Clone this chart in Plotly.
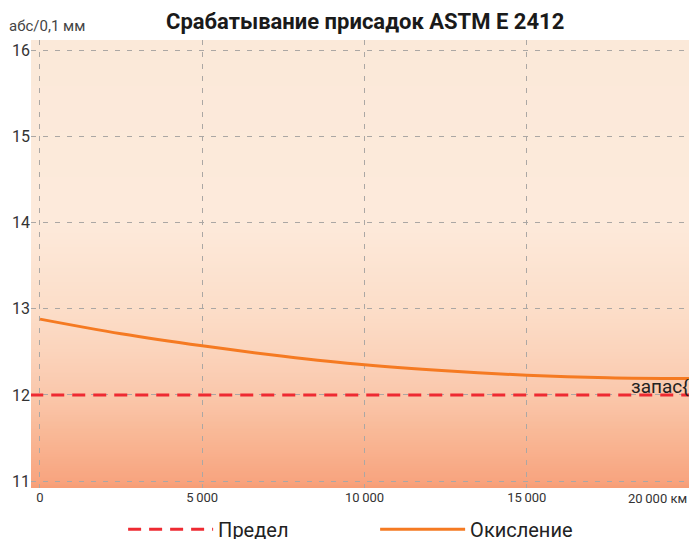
import base64
import struct
import zlib
import plotly.graph_objects as go

# ---- data ----
km = [0, 2500, 5000, 7500, 10000, 12500, 15000, 17500, 20000]
oxidation = [12.88, 12.71, 12.57, 12.45, 12.35, 12.28, 12.23, 12.20, 12.19]
limit_km = [-300, 20000]
limit_val = [12, 12]
x_ticks = [0, 5000, 10000, 15000]
x_ticktext = ["0", "5\u2009000", "10\u2009000", "15\u2009000"]
y_ticks = [11, 12, 13, 14, 15, 16]
title = "Срабатывание присадок ASTM E 2412"
y_unit = "абс/0,1 мм"
x_last_label = "20\u2009000 км"
reserve_label = "запас{"

XMIN, XMAX = -277, 20000
YMIN, YMAX = 10.92, 16.12
FONT = "Roboto"

# ---- background gradient (styling only) ----
grad_stops = [  # (y value, colour)
    (YMIN, (247, 158, 118)),
    (11.0, (248, 165, 128)),
    (11.5, (249, 183, 149)),
    (12.0, (250, 200, 172)),
    (12.5, (251, 212, 188)),
    (13.0, (252, 222, 201)),
    (14.0, (253, 234, 219)),
    (YMAX, (251, 233, 217)),
]


def grad_color(v):
    for (a, ca), (b, cb) in zip(grad_stops[:-1], grad_stops[1:]):
        if a <= v <= b:
            t = (v - a) / (b - a)
            return tuple(int(round(ca[i] + (cb[i] - ca[i]) * t)) for i in range(3))
    return grad_stops[-1][1]


def gradient_png(h=256, w=2):
    raw = b""
    for r in range(h):
        v = YMAX - (YMAX - YMIN) * r / (h - 1)
        c = grad_color(v)
        raw += b"\x00" + bytes(c) * w
    def chunk(tag, data):
        return struct.pack(">I", len(data)) + tag + data + struct.pack(">I", zlib.crc32(tag + data) & 0xffffffff)
    png = b"\x89PNG\r\n\x1a\n"
    png += chunk(b"IHDR", struct.pack(">IIBBBBB", w, h, 8, 2, 0, 0, 0))
    png += chunk(b"IDAT", zlib.compress(raw, 9))
    png += chunk(b"IEND", b"")
    return "data:image/png;base64," + base64.b64encode(png).decode()


fig = go.Figure()
fig.add_trace(go.Scatter(
    x=limit_km, y=limit_val, mode="lines", name="Предел",
    line=dict(color="#EE2A32", width=3, dash="13px,8px"),
))
fig.add_trace(go.Scatter(
    x=km, y=oxidation, mode="lines", name="Окисление",
    line=dict(color="#F57A22", width=3, shape="spline"),
))

grid = dict(showgrid=True, gridcolor="#ABA7A4", gridwidth=1, griddash="5px,7px",
            zeroline=False, automargin=False, ticks="")

fig.update_layout(
    width=689, height=539,
    margin=dict(l=31, r=0, t=40, b=51, autoexpand=False),
    paper_bgcolor="white",
    plot_bgcolor="rgba(0,0,0,0)",
    font=dict(family=FONT, color="#333333", size=14),
    title=dict(text="<b>" + title + "</b>", x=0.53, xanchor="center", y=0.96, yanchor="middle",
               font=dict(family=FONT, size=22, color="#1a1a1a")),
    xaxis=dict(range=[XMIN, XMAX], tickvals=x_ticks, ticktext=x_ticktext,
               tickfont=dict(size=13, color="#333"), **grid),
    yaxis=dict(range=[YMIN, YMAX], tickvals=y_ticks,
               tickfont=dict(size=16, color="#333"), **grid),
    legend=dict(orientation="h", x=0.14, xanchor="left", y=-0.092, yanchor="middle",
                font=dict(size=20, color="#222"), itemwidth=85, entrywidth=152,
                bgcolor="rgba(0,0,0,0)"),
    showlegend=True,
    images=[dict(source=gradient_png(), xref="paper", yref="paper", x=0, y=1,
                 sizex=1, sizey=1, xanchor="left", yanchor="top",
                 sizing="stretch", layer="below")],
)

fig.add_annotation(text=y_unit, xref="paper", yref="paper", x=-0.036, y=1,
                   xanchor="left", yanchor="bottom", yshift=3, showarrow=False,
                   font=dict(size=15, color="#444"))
fig.add_annotation(text=x_last_label, xref="paper", yref="paper", x=1, y=0,
                   xanchor="right", yanchor="top", yshift=-1, showarrow=False,
                   font=dict(size=13, color="#333"))
fig.add_annotation(text=reserve_label, xref="x", yref="y", x=18150, y=12.1,
                   xanchor="left", yanchor="middle", showarrow=False,
                   font=dict(size=19, color="#222"))

fig.write_html(
    "out.html",
    config={"displayModeBar": False},
    post_script="document.body.style.margin='0';document.body.style.overflow='hidden';",
)
